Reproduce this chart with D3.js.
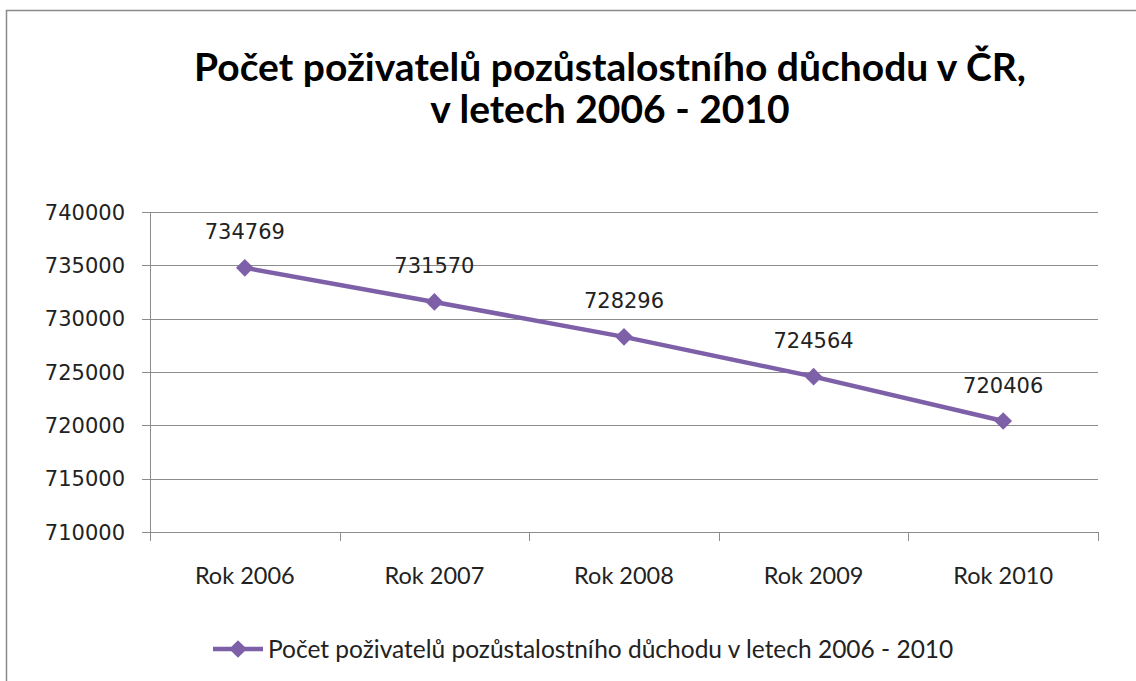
<!DOCTYPE html>
<html>
<head>
<meta charset="utf-8">
<title>Počet poživatelů pozůstalostního důchodu</title>
<style>
  body { margin: 0; background: #fff; }
</style>
</head>
<body>
<script src="https://cdn.jsdelivr.net/npm/d3@7"></script>
<script>
// data
var categories = ["Rok 2006", "Rok 2007", "Rok 2008", "Rok 2009", "Rok 2010"];
var values = [734769, 731570, 728296, 724564, 720406];
var yTicks = [710000, 715000, 720000, 725000, 730000, 735000, 740000];
var titleLines = ["Počet poživatelů pozůstalostního důchodu v ČR,", "v letech 2006 - 2010"];
var seriesName = "Počet poživatelů pozůstalostního důchodu v letech 2006 - 2010";

var width = 1136, height = 681;
var margin = {left: 150, top: 212, right: 38, bottom: 149};
var purple = "#7d60a8";

var svg = d3.select("body").append("svg")
    .attr("width", width)
    .attr("height", height);

// chart frame
svg.append("rect")
    .attr("x", 6.5).attr("y", 10.5)
    .attr("width", width + 10).attr("height", height + 10)
    .attr("fill", "none")
    .attr("stroke", "#8a8a8a")
    .attr("stroke-width", 1.5);

// title
svg.append("g").selectAll("text")
    .data(titleLines)
    .enter().append("text")
    .attr("x", 610)
    .attr("y", function (d, i) { return 81 + i * 42; })
    .attr("text-anchor", "middle")
    .attr("font-family", "Lato, 'Open Sans', sans-serif")
    .attr("font-weight", "bold")
    .attr("font-size", 39)
    .attr("fill", "#000")
    .text(function (d) { return d; });

var x = d3.scaleBand()
    .domain(categories)
    .range([margin.left, width - margin.right]);

var y = d3.scaleLinear()
    .domain([710000, 740000])
    .range([height - margin.bottom, margin.top]);

// gridlines
svg.append("g").selectAll("line")
    .data(yTicks)
    .enter().append("line")
    .attr("x1", margin.left - 8)
    .attr("x2", width - margin.right)
    .attr("y1", function (d) { return Math.round(y(d)) + 0.5; })
    .attr("y2", function (d) { return Math.round(y(d)) + 0.5; })
    .attr("stroke", "#8c8c8c")
    .attr("stroke-width", 1);

// y axis line
svg.append("line")
    .attr("x1", margin.left + 0.5).attr("x2", margin.left + 0.5)
    .attr("y1", margin.top).attr("y2", height - margin.bottom + 8)
    .attr("stroke", "#8c8c8c");

// x category tick marks
var bounds = categories.map(function (c) { return x(c); }).concat([width - margin.right]);
svg.append("g").selectAll("line")
    .data(bounds)
    .enter().append("line")
    .attr("x1", function (d) { return Math.round(d) + 0.5; })
    .attr("x2", function (d) { return Math.round(d) + 0.5; })
    .attr("y1", height - margin.bottom)
    .attr("y2", height - margin.bottom + 9)
    .attr("stroke", "#8c8c8c");

// y labels
svg.append("g").selectAll("text")
    .data(yTicks)
    .enter().append("text")
    .attr("x", margin.left - 25)
    .attr("y", function (d) { return y(d); })
    .attr("dy", "0.36em")
    .attr("text-anchor", "end")
    .attr("font-family", "'DejaVu Sans', Verdana, sans-serif")
    .attr("font-size", 21)
    .attr("fill", "#222")
    .text(function (d) { return d; });

// x labels
svg.append("g").selectAll("text")
    .data(categories)
    .enter().append("text")
    .attr("x", function (d) { return x(d) + x.bandwidth() / 2; })
    .attr("y", 584)
    .attr("text-anchor", "middle")
    .attr("font-family", "Lato, 'Open Sans', sans-serif")
    .attr("font-size", 23.5)
    .attr("fill", "#222")
    .text(function (d) { return d; });

// line
var line = d3.line()
    .x(function (d, i) { return x(categories[i]) + x.bandwidth() / 2; })
    .y(function (d) { return y(d); });

svg.append("path")
    .datum(values)
    .attr("d", line)
    .attr("fill", "none")
    .attr("stroke", purple)
    .attr("stroke-width", 4.5);

var diamond = d3.symbol().type(d3.symbolDiamond2).size(200);

svg.append("g").selectAll("path")
    .data(values)
    .enter().append("path")
    .attr("transform", function (d, i) {
        return "translate(" + (x(categories[i]) + x.bandwidth() / 2) + "," + y(d) + ")";
    })
    .attr("d", diamond)
    .attr("fill", purple);

// data labels
svg.append("g").selectAll("text")
    .data(values)
    .enter().append("text")
    .attr("x", function (d, i) { return x(categories[i]) + x.bandwidth() / 2; })
    .attr("y", function (d) { return y(d) - 36; })
    .attr("dy", "0.36em")
    .attr("text-anchor", "middle")
    .attr("font-family", "'DejaVu Sans', Verdana, sans-serif")
    .attr("font-size", 21)
    .attr("fill", "#222")
    .text(function (d) { return d; });

// legend
var legend = svg.append("g").attr("transform", "translate(213,649)");
legend.append("line")
    .attr("x1", 0).attr("x2", 50)
    .attr("y1", 0).attr("y2", 0)
    .attr("stroke", purple)
    .attr("stroke-width", 4.5);
legend.append("path")
    .attr("transform", "translate(25,0)")
    .attr("d", diamond)
    .attr("fill", purple);
legend.append("text")
    .attr("x", 55)
    .attr("y", 0)
    .attr("dy", "0.36em")
    .attr("font-family", "Lato, 'Open Sans', sans-serif")
    .attr("font-size", 24.5)
    .attr("fill", "#222")
    .text(seriesName);
</script>
</body>
</html>
